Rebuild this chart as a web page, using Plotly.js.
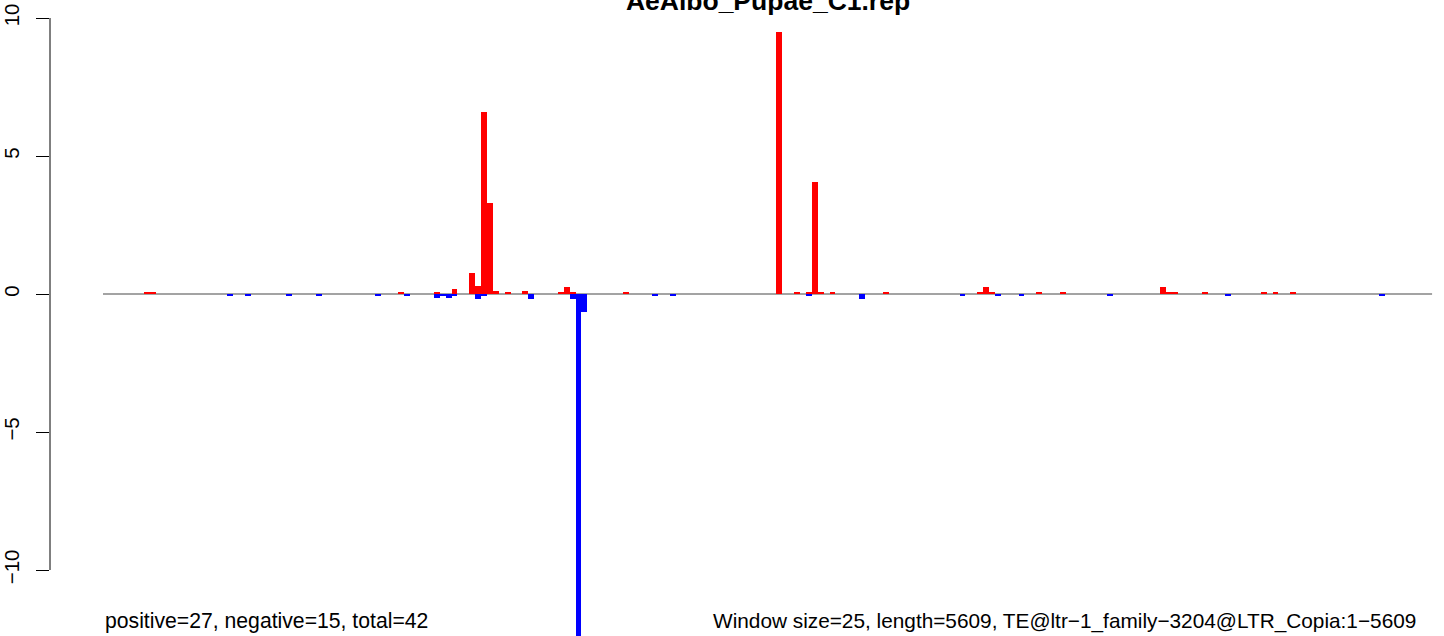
<!DOCTYPE html>
<html>
<head>
<meta charset="utf-8">
<script src="https://cdn.plot.ly/plotly-3.0.1.min.js"></script>
<style>html,body{margin:0;padding:0;background:#fff;}#chart{width:1444px;height:636px;}</style>
</head>
<body>
<div id="chart"></div>
<script>
// ---- data (window index of 25 bp windows, signal value) ----
const titleText = "AeAlbo_Pupae_C1.rep";
const leftNote = "positive=27, negative=15, total=42";
const rightNote = "Window size=25, length=5609, TE@ltr\u22121_family\u22123204@LTR_Copia:1\u22125609";
const nWindows = 225;
const posWindows = [7, 8, 50, 56, 59, 62, 63, 64, 65, 66, 68, 71, 77, 78, 79, 88, 114, 117, 119, 120, 121, 123, 132, 148, 149, 150, 158, 162, 179, 180, 181, 186, 196, 198, 201];
const posValues  = [0.07, 0.07, 0.07, 0.07, 0.18, 0.76, 0.29, 6.59, 3.30, 0.11, 0.07, 0.11, 0.07, 0.25, 0.07, 0.07, 9.49, 0.07, 0.07, 4.06, 0.07, 0.07, 0.07, 0.07, 0.25, 0.07, 0.07, 0.07, 0.25, 0.07, 0.07, 0.07, 0.07, 0.07, 0.07];
const negWindows = [21, 24, 31, 36, 46, 51, 56, 57, 58, 59, 63, 64, 72, 79, 80, 81, 93, 96, 119, 128, 145, 151, 155, 170, 190, 216];
const negValues  = [-0.07, -0.07, -0.07, -0.07, -0.07, -0.07, -0.13, -0.06, -0.13, -0.06, -0.18, -0.06, -0.18, -0.18, -13.0, -0.65, -0.07, -0.07, -0.07, -0.18, -0.07, -0.07, -0.07, -0.07, -0.07, -0.07];
const yTickVals = [-10, -5, 0, 5, 10];
const yTickText = ["\u221210", "\u22125", "0", "5", "10"];

// ---- geometry (pixels) ----
const W = 1444, H = 636;
const plotLeft = 50;          // y axis position
const x0px = 103;             // pixel of window 0
const pxPerWin = 5.907;
const y0px = 294;             // pixel of value 0
const pxPerUnit = 27.6;

const xRange = [(plotLeft - x0px) / pxPerWin, (W - x0px) / pxPerWin];
const yRange = [-(H - y0px) / pxPerUnit, y0px / pxPerUnit];

const font = "Liberation Sans, Arial, Helvetica, sans-serif";

const traces = [
  {type: 'bar', x: posWindows.map(w => w + 0.5), y: posValues, width: 1,
   marker: {color: '#FF0000', line: {width: 0}}, hoverinfo: 'x+y', name: 'positive'},
  {type: 'bar', x: negWindows.map(w => w + 0.5), y: negValues, width: 1,
   marker: {color: '#0000FF', line: {width: 0}}, hoverinfo: 'x+y', name: 'negative'}
];

const layout = {
  width: W, height: H,
  margin: {l: plotLeft, r: 0, t: 0, b: 0, pad: 0},
  paper_bgcolor: '#ffffff', plot_bgcolor: '#ffffff',
  showlegend: false,
  barmode: 'overlay',
  bargap: 0,
  title: {text: '<b>' + titleText + '</b>', font: {family: font, size: 26.5, color: '#000'},
          x: 768 / W, xanchor: 'center', xref: 'container',
          y: 1 - 10 / H, yanchor: 'bottom', yref: 'container'},
  xaxis: {visible: false, range: xRange, fixedrange: true},
  yaxis: {range: yRange, tickvals: yTickVals, ticktext: yTickText,
          ticks: 'outside', ticklen: 13, tickwidth: 1, tickcolor: '#000',
          tickangle: -90, tickfont: {family: font, size: 20.5, color: '#000'},
          showline: false, zeroline: false, showgrid: false, ticklabelstandoff: 9},
  shapes: [
    {type: 'line', xref: 'x', yref: 'y', x0: 0, x1: nWindows, y0: 0, y1: 0,
     line: {color: '#A3A3A3', width: 2}, layer: 'below'},
    {type: 'line', xref: 'paper', yref: 'y', x0: 0, x1: 0, y0: yTickVals[0], y1: yTickVals[yTickVals.length - 1],
     line: {color: '#000', width: 1}, layer: 'above'}
  ],
  annotations: [
    {text: leftNote, xref: 'x', yref: 'paper', x: 0, xanchor: 'left',
     y: 1 - 621 / H, yanchor: 'middle', showarrow: false,
     font: {family: font, size: 21.2, color: '#000'}},
    {text: rightNote, xref: 'paper', yref: 'paper', x: (1418 - plotLeft) / (W - plotLeft), xanchor: 'right',
     y: 1 - 621 / H, yanchor: 'middle', showarrow: false,
     font: {family: font, size: 20.8, color: '#000'}}
  ]
};

Plotly.newPlot('chart', traces, layout, {displayModeBar: false, staticPlot: true});
</script>
</body>
</html>
